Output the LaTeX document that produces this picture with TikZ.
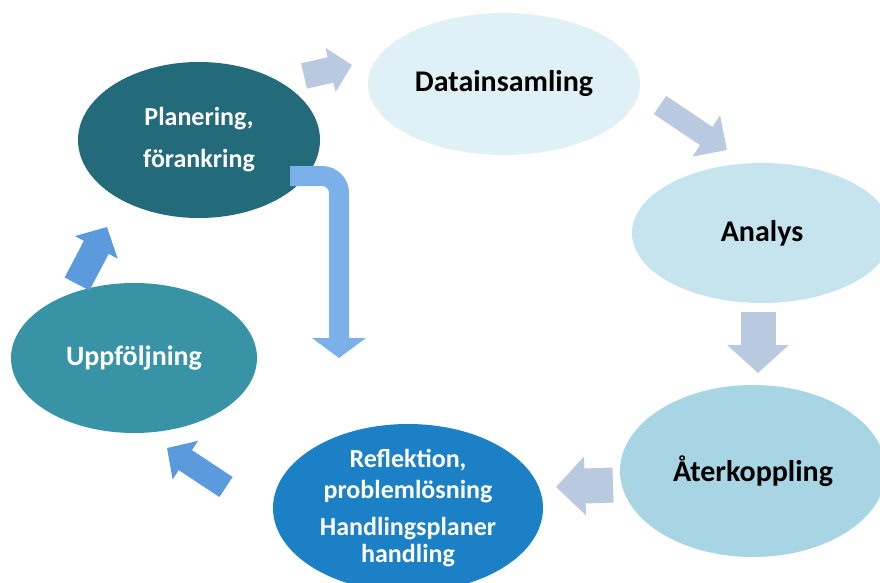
\documentclass[tikz,border=0pt]{standalone}
\usepackage{fontspec}
\setmainfont{Carlito}
\usetikzlibrary{shapes.geometric,arrows.meta}
\definecolor{plancol}{HTML}{236A7A}
\definecolor{uppfcol}{HTML}{3893A7}
\definecolor{reflcol}{HTML}{1B80C5}
\definecolor{datacol}{HTML}{DFF0F6}
\definecolor{analyscol}{HTML}{C6E4EE}
\definecolor{atercol}{HTML}{A8D5E4}
\definecolor{palearrow}{HTML}{B9C9E0}
\definecolor{bluearrow}{HTML}{5B9BDD}
\definecolor{bentarrow}{HTML}{7BB0EA}

\begin{document}
\begin{tikzpicture}[x=1pt,y=-1pt,
    stage/.style={ellipse,inner sep=0pt,align=center,font=\bfseries\fontsize{30}{36}\selectfont},
    darkstage/.style={stage,text=white,font=\bfseries\fontsize{26}{31}\selectfont},
    blockarrow/.style n args={4}{draw=#1,line width=#2,-{Triangle[length=#4,width=#3]}}]
    \useasboundingbox (0,0) rectangle (880,583);
    \clip (0,0) rectangle (880,583);
    \node[darkstage,fill=plancol,minimum width=242pt,minimum height=156pt,font=\bfseries\fontsize{26}{42}\selectfont] (plan) at (199,140) {Planering,\\förankring};
    \node[stage,fill=datacol,minimum width=272pt,minimum height=142pt] (data) at (504,84) {Datainsamling};
    \node[stage,fill=analyscol,minimum width=260pt,minimum height=140pt] (analys) at (762,233) {Analys};
    \node[stage,fill=atercol,minimum width=266pt,minimum height=172pt] (ater) at (753,471) {Återkoppling};
    \node[darkstage,fill=reflcol,minimum width=270pt,minimum height=168pt] (refl) at (408,508) {Reflektion,\\problemlösning\\[6pt]Handlingsplaner\\[-4pt]handling};
    \node[darkstage,fill=uppfcol,minimum width=246pt,minimum height=150pt,font=\bfseries\fontsize{28}{34}\selectfont] (uppf) at (134,358) {Uppföljning};
    \coordinate (a1s) at (304,76);  \coordinate (a1e) at (352,65);
    \coordinate (a2s) at (660,105); \coordinate (a2e) at (727,150);
    \coordinate (a3s) at (758,312); \coordinate (a3e) at (758,373);
    \coordinate (a4s) at (613,485); \coordinate (a4e) at (556,487);
    \coordinate (a5s) at (226,487); \coordinate (a5e) at (167,448);
    \coordinate (a6s) at (77,284);  \coordinate (a6e) at (107,227);
    \coordinate (bs) at (290,176);  \coordinate (be) at (339,358);
    \draw[blockarrow={palearrow}{26pt}{44pt}{22pt}] (a1s) -- (a1e);
    \draw[blockarrow={palearrow}{22pt}{48pt}{25pt}] (a2s) -- (a2e);
    \draw[blockarrow={palearrow}{35pt}{60pt}{28pt}] (a3s) -- (a3e);
    \draw[blockarrow={palearrow}{35pt}{57pt}{29pt}] (a4s) -- (a4e);
    \draw[blockarrow={bluearrow}{24pt}{45pt}{22pt}] (a5s) -- (a5e);
    \draw[blockarrow={bluearrow}{28pt}{47pt}{23pt}] (a6s) -- (a6e);
    \draw[blockarrow={bentarrow}{20pt}{53pt}{20pt},rounded corners=17pt] (bs) -| (be);
\end{tikzpicture}
\end{document}
